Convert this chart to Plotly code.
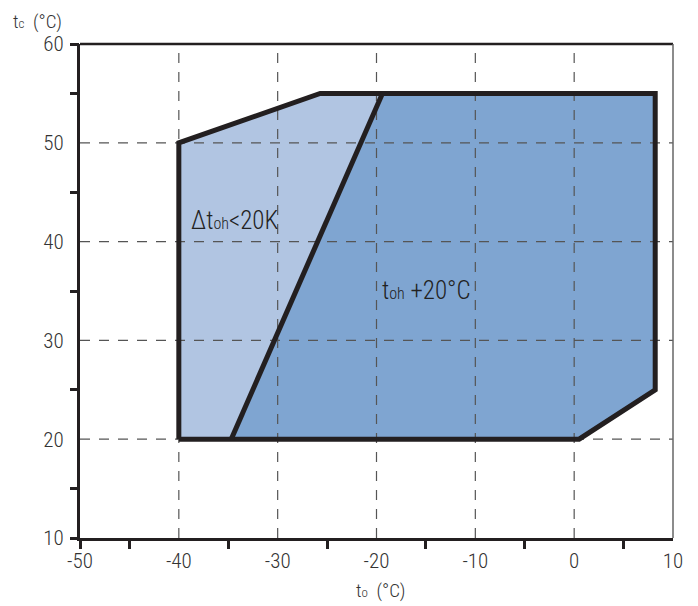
import plotly.graph_objects as go

# Data
light_x = [-40, -40, -25.7, -19.4, -34.7]
light_y = [20, 50, 55, 55, 20]
dark_x = [-34.7, -19.4, 8.2, 8.2, 0.5]
dark_y = [20, 55, 55, 25, 20]
outline_x = [-40, -40, -25.7, 8.2, 8.2, 0.5, -40]
outline_y = [20, 50, 55, 55, 25, 20, 20]
divider_x = [-34.7, -19.4]
divider_y = [20, 55]
x_major = [-50, -40, -30, -20, -10, 0, 10]
x_labels = ["-50", "-40", "-30", "-20", "-10", "0", "10"]
y_major = [10, 20, 30, 40, 50, 60]
y_labels = ["10", "20", "30", "40", "50", "60"]
x_minor = [-50, -45, -35, -25, -15, -5, 5]
y_minor = [10, 15, 25, 35, 45, 55, 60]
x_grid = [-40, -30, -20, -10, 0]
y_grid = [20, 30, 40, 50]

FONT = "Roboto Condensed, Liberation Sans Narrow, sans-serif"
TXT = "#333333"

fig = go.Figure()
fig.add_trace(go.Scatter(x=light_x, y=light_y, fill="toself", fillcolor="#b1c5e2",
                         mode="none", hoverinfo="skip", showlegend=False))
fig.add_trace(go.Scatter(x=dark_x, y=dark_y, fill="toself", fillcolor="#7fa5d1",
                         mode="none", hoverinfo="skip", showlegend=False))
# dashed grid lines drawn above fills
for gx in x_grid:
    fig.add_trace(go.Scatter(x=[gx, gx], y=[10, 60], mode="lines",
                             line=dict(color="#555555", width=1.2, dash="10px,9px"),
                             hoverinfo="skip", showlegend=False))
for gy in y_grid:
    fig.add_trace(go.Scatter(x=[-50, 10], y=[gy, gy], mode="lines",
                             line=dict(color="#555555", width=1.2, dash="10px,9px"),
                             hoverinfo="skip", showlegend=False))
fig.add_trace(go.Scatter(x=outline_x, y=outline_y, mode="lines",
                         line=dict(color="#231f20", width=5), hoverinfo="skip", showlegend=False))
fig.add_trace(go.Scatter(x=divider_x, y=divider_y, mode="lines",
                         line=dict(color="#231f20", width=5), hoverinfo="skip", showlegend=False))

fig.add_annotation(x=-39, y=42.1, xanchor="left", yanchor="middle", showarrow=False,
                   text="Δt<span style='font-size:16px'>oh</span><20K",
                   font=dict(family=FONT, size=25, color="#222222", weight=300))
fig.add_annotation(x=-19.6, y=35.1, xanchor="left", yanchor="middle", showarrow=False,
                   text="t<span style='font-size:16px'>oh</span> +20°C",
                   font=dict(family=FONT, size=25, color="#222222", weight=300))

fig.add_annotation(xref="paper", yref="paper", x=-0.117, y=1.073, xanchor="left", yanchor="top",
                   showarrow=False, text="t<span style='font-size:13px'>c</span>  (°C)",
                   font=dict(family=FONT, size=19, color=TXT, weight=300))
fig.add_annotation(xref="paper", yref="paper", x=0.506, y=-0.078, xanchor="center", yanchor="top",
                   showarrow=False, text="t<span style='font-size:13px'>o</span>  (°C)",
                   font=dict(family=FONT, size=19, color=TXT, weight=300))

# frame top and right
fig.add_shape(type="line", xref="x domain", yref="y domain", x0=0, x1=1, y0=1, y1=1,
              line=dict(color="#231f20", width=2.5))
fig.add_shape(type="line", xref="x domain", yref="y domain", x0=1, x1=1, y0=0, y1=1,
              line=dict(color="#666666", width=1.5))

fig.update_layout(
    width=698, height=606,
    margin=dict(l=72, r=33, t=36, b=76),
    paper_bgcolor="white", plot_bgcolor="white",
    font=dict(family=FONT, size=20, color=TXT, weight=300),
    xaxis=dict(range=[-50, 10], tickvals=x_major, ticktext=x_labels, ticks="", showgrid=False,
               zeroline=False, showline=True, linecolor="#231f20", linewidth=3, ticklabelstandoff=2,
               tickfont=dict(family=FONT, size=21, color=TXT, weight=300)),
    yaxis=dict(range=[10, 60], tickvals=y_major, ticktext=y_labels, ticks="", showgrid=False,
               zeroline=False, showline=True, linecolor="#231f20", linewidth=3, ticklabelstandoff=9,
               tickfont=dict(family=FONT, size=21, color=TXT, weight=300)),
    xaxis2=dict(overlaying="x", matches="x", anchor="y", side="bottom", tickvals=x_minor,
                ticks="outside", ticklen=10, tickwidth=3, tickcolor="#231f20",
                showticklabels=False, showgrid=False, zeroline=False),
    yaxis2=dict(overlaying="y", matches="y", anchor="x", side="left", tickvals=y_minor,
                ticks="outside", ticklen=9, tickwidth=3, tickcolor="#231f20",
                showticklabels=False, showgrid=False, zeroline=False),
)
fig.add_trace(go.Scatter(x=[None], y=[None], xaxis="x2", yaxis="y2", showlegend=False, hoverinfo="skip"))

fig.write_html("out.html")
